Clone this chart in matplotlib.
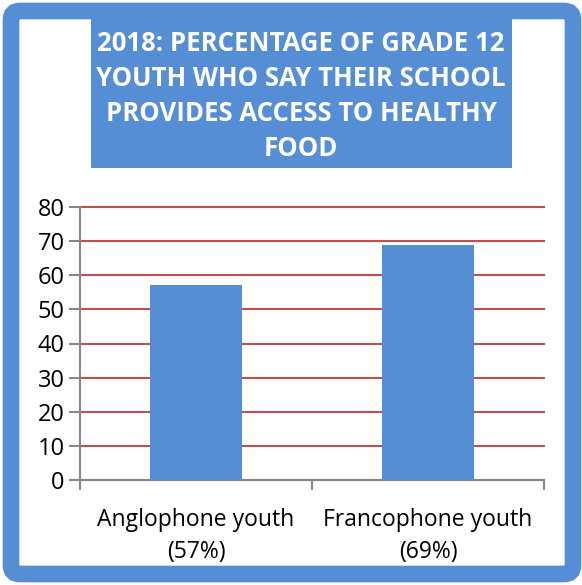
import matplotlib.pyplot as plt
from matplotlib.patches import FancyBboxPatch, Rectangle

categories = ["Anglophone youth\n(57%)", "Francophone youth\n(69%)"]
values = [57, 69]
yticks = [0, 10, 20, 30, 40, 50, 60, 70, 80]
title = "2018: PERCENTAGE OF GRADE 12\nYOUTH WHO SAY THEIR SCHOOL\nPROVIDES ACCESS TO HEALTHY\nFOOD"

blue = "#558ED5"
red = "#C0504D"
grey = "#878787"

plt.rcParams['font.family'] = ['Open Sans', 'DejaVu Sans']

W, H = 582, 585
fig = plt.figure(figsize=(W / 100, H / 100), dpi=100)

# blue frame around the whole chart
fig.patches.append(FancyBboxPatch((11 / W, 11 / H), 562 / W, 563 / H,
                                  boxstyle="round,pad=0,rounding_size=0.015",
                                  transform=fig.transFigure, facecolor="white",
                                  edgecolor=blue, linewidth=12, zorder=-2))

# title box
fig.patches.append(Rectangle((91 / W, 1 - 168 / H), 421 / W, 150 / H,
                             transform=fig.transFigure, facecolor=blue,
                             edgecolor="none", zorder=-1))
fig.text(301 / W, 1 - 96 / H, title, ha="center", va="center", color="white",
         fontsize=18.5, fontweight="bold", linespacing=1.38, zorder=2)

ax = fig.add_axes([80 / W, 1 - 480 / H, 464 / W, 273 / H], zorder=5)
ax.patch.set_visible(False)
x = range(len(values))
ax.bar(x, values, width=0.4, color=blue, zorder=3)
ax.set_xlim(-0.5, len(values) - 0.5)
ax.set_ylim(0, 80)
ax.set_yticks(yticks)
ax.yaxis.grid(True, color=red, linewidth=1.5)
for gl in ax.get_ygridlines():
    gl.set_clip_on(False)
ax.set_axisbelow(True)

ax.set_xticks(x)
ax.set_xticklabels(categories, fontsize=16.5, linespacing=1.45)
ax.tick_params(axis="x", length=0, pad=20)
ax.set_xticks([-0.5, 0.5, 1.5], minor=True)
ax.tick_params(axis="x", which="minor", length=7, color=grey, width=1.5)
ax.tick_params(axis="y", labelsize=17, length=8, color=grey, width=1.5, pad=3)

for side in ("top", "right"):
    ax.spines[side].set_visible(False)
for side in ("left", "bottom"):
    ax.spines[side].set_color(grey)
    ax.spines[side].set_linewidth(1.5)

fig.savefig("out.png", dpi=100)
